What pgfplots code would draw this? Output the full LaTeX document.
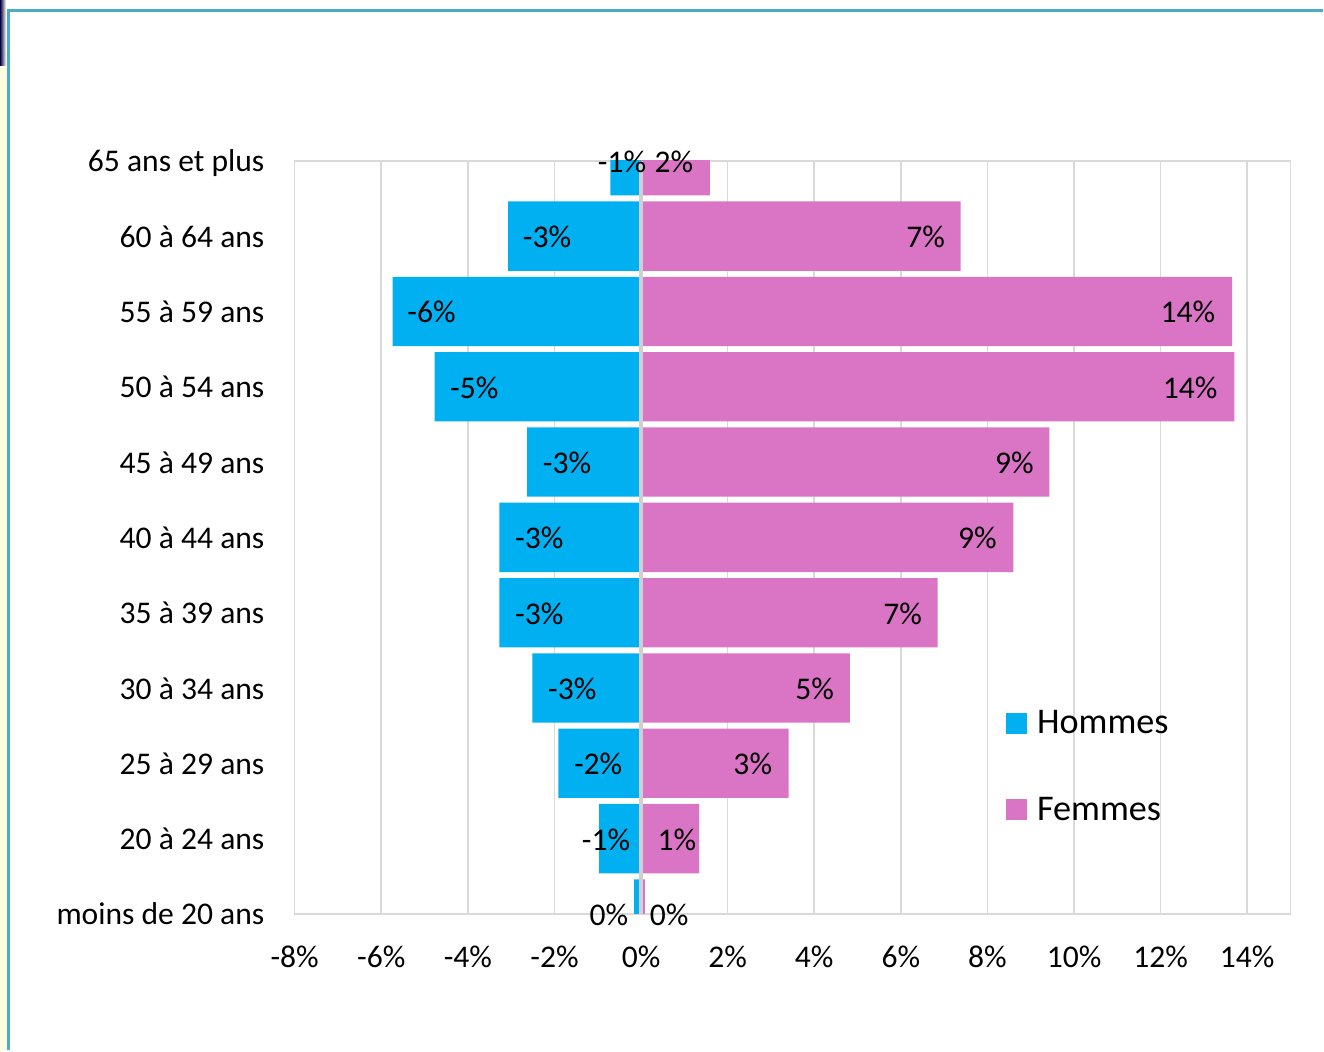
\documentclass[border=0pt]{standalone}
\usepackage{fontspec}
\setmainfont{Carlito}
\usepackage{pgfplots}
\pgfplotsset{compat=1.18}
\definecolor{homme}{RGB}{0,176,240}
\definecolor{femme}{RGB}{218,116,196}
\definecolor{grille}{RGB}{217,217,217}
\definecolor{axe}{RGB}{208,208,208}
\definecolor{cadre}{RGB}{75,172,198}

\begin{document}
\begin{tikzpicture}
% page = 1324 x 1051 px, one px = 0.5pt
\path[fill=white] (0pt,0pt) rectangle (662pt,525.5pt);
\fill[yellow!12] (0pt,0pt) rectangle (3.5pt,500pt);
\shade[left color=black!75!blue, right color=white] (0pt,492.5pt) rectangle (3pt,525.5pt);
\draw[cadre, line width=1.5pt] (662pt,520pt) -- (4.5pt,520pt) -- (4.5pt,0pt);

\begin{axis}[
  at={(147.5pt,68pt)}, anchor=south west,
  scale only axis, width=498.5pt, height=377pt,
  xmin=-8, xmax=15, ymin=0, ymax=10,
  xtick={-8,-6,...,14},
  xticklabels={-8\%,-6\%,-4\%,-2\%,0\%,2\%,4\%,6\%,8\%,10\%,12\%,14\%},
  ytick={0,...,10},
  yticklabels={moins de 20 ans,20 à 24 ans,25 à 29 ans,30 à 34 ans,35 à 39 ans,
    40 à 44 ans,45 à 49 ans,50 à 54 ans,55 à 59 ans,60 à 64 ans,65 ans et plus},
  major tick length=0pt,
  xmajorgrids,
  grid style={grille, line width=0.8pt},
  axis line style={grille, line width=0.8pt},
  tick label style={font=\fontsize{15.8}{19}\selectfont, inner sep=0pt},
  xticklabel style={anchor=north, yshift=-16pt},
  yticklabel style={anchor=base east, xshift=-15pt, yshift=-5.5pt},
  legend style={at={(0.708,0.281)}, anchor=north west, draw=none, fill=none,
    font=\fontsize{18.1}{21}\selectfont, row sep=26pt, column sep=3pt,
    cells={anchor=west}},
  legend image code/.code={\fill[#1] (0pt,-5.25pt) rectangle (10.5pt,5.25pt);},
]

\addplot[xbar, bar width=0.92, bar shift=0pt, fill=homme, draw=none] coordinates {
  (-0.71,10) (-3.07,9) (-5.74,8) (-4.77,7) (-2.63,6) (-3.27,5)
  (-3.27,4) (-2.51,3) (-1.91,2) (-0.97,1) (-0.16,0)
};
\addlegendentry{Hommes}

\addplot[xbar, bar width=0.92, bar shift=0pt, fill=femme, draw=none] coordinates {
  (1.59,10) (7.38,9) (13.65,8) (13.70,7) (9.43,6) (8.60,5)
  (6.85,4) (4.82,3) (3.41,2) (1.34,1) (0.09,0)
};
\addlegendentry{Femmes}

% data labels, placed where the chart shows them
\addplot[draw=none, mark=none, forget plot,
  nodes near coords, point meta=explicit symbolic,
  every node near coord/.append style={anchor=base, yshift=-5.7pt, inner sep=0pt,
    font=\fontsize{15.8}{19}\selectfont}]
  table[x=x, y=y, meta=lab] {
  x      y   lab
  -0.44  10  -1\%
  -2.17  9   -3\%
  -4.84  8   -6\%
  -3.85  7   -5\%
  -1.71  6   -3\%
  -2.35  5   -3\%
  -2.35  4   -3\%
  -1.59  3   -3\%
  -0.99  2   -2\%
  -0.81  1   -1\%
  -0.74  0   0\%
  0.76   10  2\%
  6.57   9   7\%
  12.63  8   14\%
  12.68  7   14\%
  8.62   6   9\%
  7.77   5   9\%
  6.04   4   7\%
  4.01   3   5\%
  2.58   2   3\%
  0.83   1   1\%
  0.65   0   0\%
};

\draw[axe, line width=2pt] (axis cs:0,0) -- (axis cs:0,10);
\end{axis}
\end{tikzpicture}
\end{document}
